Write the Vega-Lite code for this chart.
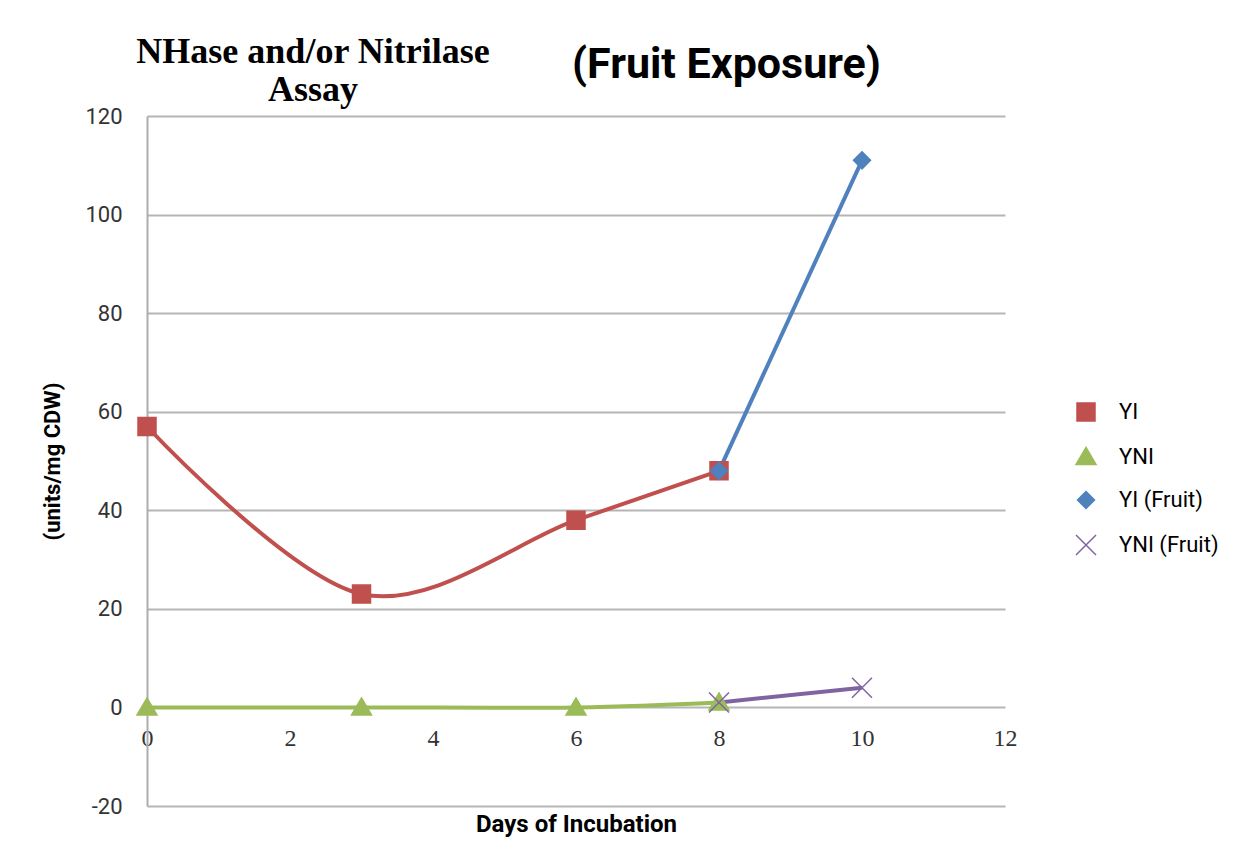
{
  "$schema": "https://vega.github.io/schema/vega-lite/v6.json",
  "width": 858,
  "height": 690,
  "autosize": "none",
  "padding": {"left": 147, "top": 116, "right": 236, "bottom": 57},
  "background": "white",
  "config": {"view": {"stroke": null}, "font": "Roboto"},
  "title": {
    "text": ["NHase and/or Nitrilase", "Assay"],
    "anchor": "start",
    "align": "center",
    "dx": 166,
    "dy": 110,
    "offset": 16,
    "baseline": "alphabetic",
    "lineHeight": 38,
    "font": "Liberation Serif",
    "fontSize": 36,
    "fontWeight": "bold",
    "color": "black",
    "frame": "group"
  },
  "data": {
    "values": [
      {"series": "YI", "day": 0, "value": 57},
      {"series": "YI", "day": 3, "value": 23},
      {"series": "YI", "day": 6, "value": 38},
      {"series": "YI", "day": 8, "value": 48},
      {"series": "YNI", "day": 0, "value": 0},
      {"series": "YNI", "day": 3, "value": 0},
      {"series": "YNI", "day": 6, "value": 0},
      {"series": "YNI", "day": 8, "value": 1},
      {"series": "YI (Fruit)", "day": 8, "value": 48},
      {"series": "YI (Fruit)", "day": 10, "value": 111},
      {"series": "YNI (Fruit)", "day": 8, "value": 1},
      {"series": "YNI (Fruit)", "day": 10, "value": 4}
    ]
  },
  "encoding": {
    "y": {
      "field": "value",
      "type": "quantitative",
      "scale": {"domain": [-20, 120], "nice": false, "zero": false},
      "axis": {
        "values": [-20, 0, 20, 40, 60, 80, 100, 120],
        "labelExpr": "'' + datum.value",
        "title": "(units/mg CDW)",
        "titleFont": "Roboto",
        "titleFontSize": 22,
        "titleFontWeight": "bold",
        "titleColor": "black",
        "titleX": -95,
        "titleY": 345,
        "titleAngle": -90,
        "titleAlign": "center",
        "titleBaseline": "middle",
        "labelFont": "Roboto",
        "labelFontSize": 22,
        "labelColor": "#333333",
        "labelPadding": 25,
        "ticks": false,
        "domain": true,
        "domainColor": "#ADADAD",
        "domainWidth": 2,
        "grid": true,
        "gridColor": "#B5B5B5",
        "gridWidth": 2
      }
    }
  },
  "layer": [
    {
      "mark": {"type": "line", "interpolate": "cardinal", "strokeWidth": 4},
      "encoding": {
        "x": {
          "field": "day",
          "type": "quantitative",
          "scale": {"domain": [0, 12], "nice": false, "zero": false},
          "axis": {
            "orient": "bottom",
            "offset": -98.6,
            "values": [0, 2, 4, 6, 8, 10, 12],
            "labelFlush": false,
            "domain": false,
            "ticks": false,
            "grid": false,
            "labelFont": "Liberation Serif",
            "labelFontSize": 24,
            "labelColor": "#333333",
            "labelPadding": 19,
            "title": "Days of Incubation",
            "titleFont": "Roboto",
            "titleFontSize": 24,
            "titleFontWeight": "bold",
            "titleColor": "black",
            "titleY": 117,
            "titleBaseline": "middle"
          }
        },
        "color": {
          "field": "series",
          "type": "nominal",
          "scale": {
            "domain": ["YI", "YNI", "YI (Fruit)", "YNI (Fruit)"],
            "range": ["#C0504D", "#9BBB59", "#4F81BD", "#8064A2"]
          }
        }
      }
    },
    {
      "mark": {"type": "point", "filled": true, "opacity": 1, "size": 400, "strokeWidth": 1.5},
      "encoding": {
        "x": {
          "field": "day",
          "type": "quantitative",
          "axis": {
            "orient": "top",
            "domain": false,
            "ticks": false,
            "labels": false,
            "grid": false,
            "title": "(Fruit Exposure)",
            "titleFont": "Roboto",
            "titleFontSize": 43,
            "titleFontWeight": "bold",
            "titleColor": "black",
            "titleX": 579,
            "titleY": -39,
            "titleAlign": "center",
            "titleBaseline": "alphabetic"
          }
        },
        "color": {
          "field": "series",
          "type": "nominal",
          "scale": {
            "domain": ["YI", "YNI", "YI (Fruit)", "YNI (Fruit)"],
            "range": ["#C0504D", "#9BBB59", "#4F81BD", "#8064A2"]
          },
          "legend": {
            "title": null,
            "orient": "none",
            "legendX": 928,
            "legendY": 285,
            "padding": 0,
            "symbolSize": 400,
            "labelFont": "Roboto",
            "labelFontSize": 22,
            "labelColor": "black",
            "labelOffset": 22,
            "labelLimit": 300,
            "rowPadding": 20
          }
        },
        "shape": {
          "field": "series",
          "type": "nominal",
          "scale": {
            "domain": ["YI", "YNI", "YI (Fruit)", "YNI (Fruit)"],
            "range": [
              "M-0.9,-0.9H0.9V0.9H-0.9Z",
              "M0,-0.95L1.0,0.75H-1.0Z",
              "M0,-0.85L0.85,0L0,0.85L-0.85,0Z",
              "M-1,-1L1,1M-1,1L1,-1"
            ]
          },
          "legend": null
        },
        "stroke": {
          "field": "series",
          "type": "nominal",
          "scale": {
            "domain": ["YI", "YNI", "YI (Fruit)", "YNI (Fruit)"],
            "range": ["#C0504D", "#9BBB59", "#4F81BD", "#8064A2"]
          },
          "legend": null
        }
      }
    }
  ],
  "resolve": {"axis": {"x": "independent"}}
}
